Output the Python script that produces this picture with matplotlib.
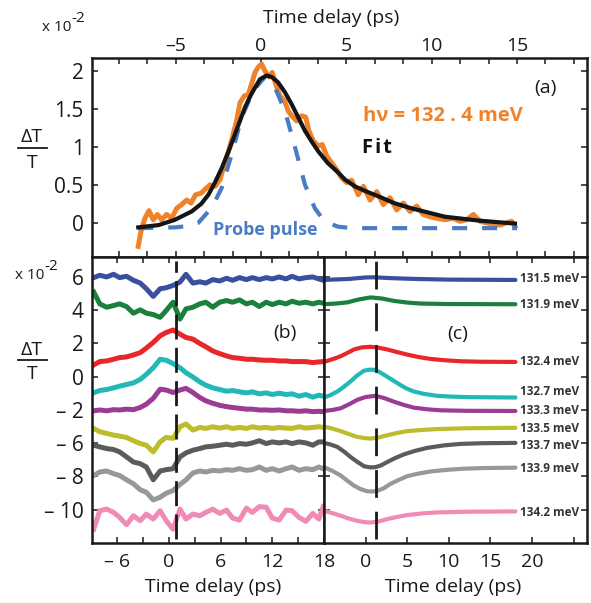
import matplotlib
matplotlib.use('Agg')
import matplotlib.pyplot as plt
from matplotlib.lines import Line2D
from matplotlib.ticker import FixedLocator, FixedFormatter

plt.rcParams['font.family'] = ['Open Sans', 'DejaVu Sans']

# ---------------- data: panel (a) ----------------
t_orange = [-7.19, -7.03, -6.8, -6.56, -6.31, -6.07, -5.82, -5.53, -5.23, -4.94, -4.65, -4.35,
            -4.1, -3.83, -3.51, -3.28, -2.99, -2.69, -2.4, -2.15, -1.91, -1.68, -1.43, -1.23,
            -0.98, -0.74, -0.55, -0.35, -0.16, 0.04, 0.23, 0.47, 0.66, 0.86, 1.11, 1.37, 1.6,
            1.8, 2.09, 2.38, 2.62, 2.81, 3.06, 3.36, 3.59, 3.85, 4.14, 4.43, 4.73, 5.02, 5.31,
            5.7, 6.0, 6.39, 6.78, 7.17, 7.56, 7.95, 8.34, 8.73, 9.12, 9.51, 9.9, 10.29, 10.78,
            11.27, 11.66, 12.05, 12.44, 12.83, 13.22, 13.61, 14.0, 14.39, 14.69, 14.88]
v_orange = [-0.31, -0.11, 0.06, 0.16, 0.04, 0.11, 0.04, 0.11, 0.06, 0.19, 0.24, 0.30,
            0.26, 0.37, 0.39, 0.44, 0.50, 0.48, 0.57, 0.77, 0.94, 1.12, 1.34, 1.58,
            1.67, 1.69, 1.83, 1.98, 2.05, 2.09, 2.00, 1.92, 1.98, 1.83, 1.67, 1.61, 1.47,
            1.41, 1.34, 1.41, 1.39, 1.21, 1.08, 1.01, 1.03, 0.88, 0.79, 0.70, 0.59, 0.53, 0.56,
            0.37, 0.48, 0.30, 0.41, 0.24, 0.33, 0.17, 0.26, 0.15, 0.22, 0.11, 0.08, 0.06, 0.04,
            0.06, 0.02, 0.04, 0.11, 0.02, 0.00, -0.02, -0.03, 0.00, 0.02, -0.05]

t_fit = [-7.19, -6.0, -5.04, -4.06, -3.5, -3.08, -2.7, -2.3, -1.9, -1.52, -1.2, -0.94, -0.6,
         -0.35, -0.06, 0.33, 0.63, 1.0, 1.4, 1.8, 2.2, 2.58, 3.0, 3.36, 3.9, 4.53, 4.92, 5.5,
         6.2, 6.87, 7.8, 8.83, 10.78, 12.73, 14.88]
v_fit = [-0.06, -0.03, 0.04, 0.15, 0.25, 0.37, 0.53, 0.72, 0.94, 1.17, 1.36, 1.52, 1.68,
         1.78, 1.89, 1.94, 1.92, 1.85, 1.72, 1.56, 1.38, 1.21, 1.06, 0.94, 0.79, 0.66, 0.57,
         0.48, 0.41, 0.35, 0.26, 0.19, 0.08, 0.03, -0.01]

t_probe = [-7.19, -5.0, -4.2, -3.67, -3.08, -2.7, -2.3, -1.72, -1.13, -0.45, 0.23, 0.82, 1.41,
           2.0, 2.58, 3.16, 3.55, 3.94, 4.5, 5.3, 15.0]
v_probe = [-0.07, -0.06, -0.04, 0.0, 0.15, 0.28, 0.46, 0.90, 1.39, 1.74, 1.92, 1.78, 1.47,
           0.99, 0.50, 0.19, 0.07, 0.0, -0.05, -0.07, -0.07]

# ---------------- data: panel (b) (plotted with vertical offsets) ----------------
t_meas = [-8.7, -8.0, -7.2, -6.4, -5.7, -4.9, -4.1, -3.3, -2.6, -1.8, -1.0, -0.3, 0.5, 1.3,
          2.0, 2.8, 3.6, 4.3, 5.1, 5.9, 6.7, 7.4, 8.2, 9.0, 9.7, 10.5, 11.3, 12.0, 12.8, 13.6,
          14.3, 15.1, 15.9, 16.7, 17.4, 17.9]
meas_1315 = [5.96, 6.10, 6.00, 6.16, 5.96, 6.04, 5.80, 5.63, 5.29, 4.83, 5.29, 5.35, 5.49, 5.69,
             6.16, 5.63, 5.71, 5.63, 5.84, 5.76, 5.92, 5.80, 5.96, 5.84, 5.96, 5.84, 5.96, 5.88,
             6.00, 5.88, 6.04, 5.88, 5.96, 6.00, 5.88, 5.80]
meas_1319 = [5.09, 4.38, 4.18, 4.28, 4.38, 4.22, 3.82, 4.02, 3.82, 3.74, 3.57, 3.98, 4.48, 3.47,
             4.08, 4.18, 4.38, 4.48, 4.18, 4.48, 4.58, 4.48, 4.62, 4.38, 4.48, 4.22, 4.48, 4.34,
             4.48, 4.38, 4.54, 4.42, 4.48, 4.38, 4.48, 4.42]
meas_1324 = [0.71, 0.91, 0.95, 1.05, 1.15, 1.19, 1.31, 1.45, 1.72, 2.06, 2.46, 2.66, 2.81, 2.56,
             2.36, 2.26, 2.00, 1.80, 1.55, 1.39, 1.25, 1.15, 1.11, 1.05, 1.05, 1.01, 0.99, 0.99,
             0.95, 0.95, 0.91, 0.91, 0.91, 0.85, 0.89, 0.91]
meas_1327 = [-0.97, -0.83, -0.77, -0.67, -0.57, -0.47, -0.37, -0.16, 0.14, 0.54, 1.05, 0.99, 0.79,
             0.54, 0.24, -0.02, -0.31, -0.51, -0.67, -0.77, -0.87, -0.83, -0.91, -0.97, -0.91,
             -1.03, -0.97, -1.07, -0.99, -1.07, -1.03, -1.17, -1.07, -1.23, -1.11, -1.17]
meas_1333 = [-2.05, -2.00, -2.05, -1.98, -2.00, -1.95, -1.98, -1.85, -1.65, -1.30, -0.75, -0.80,
             -0.95, -0.80, -0.70, -0.95, -1.25, -1.45, -1.60, -1.72, -1.80, -1.85, -1.90, -1.95,
             -1.95, -2.00, -2.00, -2.02, -2.00, -2.05, -2.05, -2.08, -2.05, -2.10, -2.08, -2.10]
meas_1335 = [-3.11, -3.31, -3.41, -3.51, -3.57, -3.65, -3.85, -4.02, -4.12, -4.52, -3.92, -3.65,
             -3.71, -3.01, -2.84, -3.21, -3.05, -3.11, -3.01, -3.09, -3.01, -3.11, -3.05, -3.11,
             -3.01, -3.09, -3.05, -3.11, -3.05, -3.09, -3.11, -3.01, -3.09, -3.05, -3.01, -3.05]
meas_1337 = [-4.12, -4.22, -4.32, -4.38, -4.52, -4.82, -5.13, -5.23, -5.43, -6.20, -5.67, -5.59,
             -5.53, -4.82, -4.58, -4.42, -4.32, -4.22, -4.18, -4.12, -4.06, -4.12, -4.02, -4.06,
             -3.98, -3.85, -4.02, -3.92, -3.98, -3.92, -4.02, -3.92, -3.98, -4.12, -3.92, -3.92]
meas_1339 = [-5.94, -5.73, -5.67, -5.83, -5.94, -6.20, -6.44, -6.80, -6.95, -7.41, -7.25, -7.01,
             -6.84, -6.48, -6.20, -5.79, -5.67, -5.73, -5.63, -5.67, -5.59, -5.63, -5.53, -5.63,
             -5.59, -5.43, -5.63, -5.53, -5.67, -5.53, -5.43, -5.63, -5.53, -5.59, -5.43, -5.53]
meas_1342 = [-9.17, -8.06, -7.96, -8.16, -8.46, -8.90, -8.36, -8.66, -8.26, -8.56, -8.06, -8.66,
             -9.17, -7.96, -8.56, -8.26, -8.36, -8.16, -7.96, -8.22, -8.02, -8.50, -8.62, -7.90,
             -8.16, -7.81, -7.85, -8.50, -8.62, -8.02, -8.06, -8.46, -8.70, -8.22, -8.56, -7.81]

# ---------------- data: panel (c) model curves ----------------
t_1315 = [-5, -2, 0, 1, 3, 6, 10, 18]
c_1315 = [5.82, 5.88, 5.97, 5.98, 5.93, 5.88, 5.84, 5.82]
t_1319 = [-5, -3.6, -2.2, -0.8, 0.6, 2.0, 3.4, 5.0, 6.6, 10, 18]
c_1319 = [4.36, 4.40, 4.47, 4.65, 4.77, 4.70, 4.56, 4.46, 4.40, 4.37, 4.36]
t_1324 = [-5, -4, -3, -2, -1.4, -0.5, 0.6, 1.6, 2.6, 3.8, 5.0, 6.4, 7.8, 9.5, 11.4, 14, 18]
c_1324 = [0.89, 1.05, 1.23, 1.48, 1.64, 1.76, 1.80, 1.74, 1.64, 1.48, 1.33, 1.18, 1.07, 0.99,
          0.93, 0.90, 0.89]
t_1327 = [-5, -4.2, -3.4, -2.6, -1.8, -1.0, -0.2, 0.4, 1.0, 1.6, 2.2, 3.0, 3.8, 4.8, 5.8, 7.0,
          8.6, 10.5, 12.6, 18]
c_1327 = [-1.25, -1.10, -0.89, -0.60, -0.28, 0.08, 0.36, 0.42, 0.42, 0.30, 0.12, -0.13, -0.38,
          -0.68, -0.89, -1.03, -1.15, -1.20, -1.23, -1.25]
t_1333 = [-5, -4, -3, -2, -1, 0, 1.2, 2.2, 3.4, 4.6, 5.8, 7.4, 9, 12, 18]
c_1333 = [-2.06, -2.00, -1.90, -1.66, -1.39, -1.22, -1.15, -1.28, -1.50, -1.70, -1.86, -1.96,
          -2.02, -2.05, -2.06]
t_1335 = [-5, -4, -3, -2, -1, 0, 0.6, 1.6, 2.6, 3.8, 5, 6.8, 8.6, 12, 18]
c_1335 = [-3.00, -3.12, -3.27, -3.45, -3.62, -3.70, -3.72, -3.65, -3.52, -3.38, -3.27, -3.20,
          -3.15, -3.10, -3.07]
t_1337 = [-5, -4.2, -3.4, -2.6, -1.8, -1, -0.2, 0.5, 1.2, 1.9, 2.6, 3.6, 4.6, 6, 7.4, 9.4,
          11.4, 14, 18]
c_1337 = [-3.98, -4.08, -4.22, -4.50, -4.83, -5.12, -5.38, -5.45, -5.44, -5.32, -5.13, -4.88,
          -4.67, -4.45, -4.28, -4.13, -4.04, -4.00, -3.98]
t_1339 = [-5, -4, -3, -2.2, -1.4, -0.6, 0.2, 0.8, 1.4, 2.2, 3, 4, 5, 6.4, 7.8, 9.8, 11.8,
          14.5, 18]
c_1339 = [-5.44, -5.66, -5.94, -6.25, -6.55, -6.76, -6.89, -6.90, -6.87, -6.70, -6.44, -6.20,
          -5.98, -5.82, -5.70, -5.60, -5.53, -5.49, -5.47]
t_1342 = [-5, -4, -3, -2, -1, 0, 0.6, 1.6, 2.6, 3.8, 5, 6.8, 8.6, 12, 18]
c_1342 = [-8.06, -8.20, -8.36, -8.53, -8.67, -8.75, -8.77, -8.70, -8.56, -8.43, -8.32, -8.22,
          -8.16, -8.12, -8.10]

energies = ['131.5 meV', '131.9 meV', '132.4 meV', '132.7 meV', '133.3 meV',
            '133.5 meV', '133.7 meV', '133.9 meV', '134.2 meV']
label_pos = [5.88, 4.36, 0.91, -0.91, -2.06, -3.09, -4.12, -5.52, -8.18]
colors = ['#3a4f9e', '#1b7f3e', '#e8262b', '#22b8b6', '#9a3c95',
          '#bcbc2c', '#5b5b5b', '#989898', '#f08bb6']

meas = [meas_1315, meas_1319, meas_1324, meas_1327, meas_1333,
        meas_1335, meas_1337, meas_1339, meas_1342]
model_t = [t_1315, t_1319, t_1324, t_1327, t_1333, t_1335, t_1337, t_1339, t_1342]
model_v = [c_1315, c_1319, c_1324, c_1327, c_1333, c_1335, c_1337, c_1339, c_1342]

ytick_pos = [6, 4, 2, 0, -2, -4, -6, -8]
ytick_lab = ['6', '4', '2', '0', '\u2013 2', '\u2013 6', '\u2013 8', '\u2013 10']
xb_major = [-6, 0, 6, 12, 18]
xb_labels = ['\u2013 6', '0', '6', '12', '18']
xb_minor = [-3, 3, 9, 15]
xc_major = [0, 5, 10, 15, 20]
xc_labels = ['0', '5', '10', '15', '20']
xc_minor = [25]

# ---------------- figure ----------------
W, H = 591, 603
fig = plt.figure(figsize=(W / 100, H / 100), dpi=100)


def fx(x):
    return x / W


def fy(y):
    return 1 - y / H


ax_a = fig.add_axes([92 / W, 1 - 257 / H, 495 / W, 199 / H])
ax_b = fig.add_axes([92 / W, 1 - 543 / H, 232 / W, 286 / H])
ax_c = fig.add_axes([324 / W, 1 - 543 / H, 263 / W, 286 / H])

for ax in (ax_a, ax_b, ax_c):
    for s in ax.spines.values():
        s.set_linewidth(1.8)
        s.set_color('#1a1a1a')
    ax.tick_params(which='both', direction='in', length=4, width=1.1, top=True, right=True,
                   labelsize=14, colors='#1a1a1a')

# panel (a)
ax_a.plot(t_orange, v_orange, color='#f0822a', lw=3.6, solid_joinstyle='round', zorder=2)
ax_a.plot(t_probe, v_probe, color='#4a7cc3', lw=3.0, dashes=(3.6, 3.6), zorder=3)
ax_a.plot(t_fit, v_fit, color='#151515', lw=3.0, zorder=4)
ax_a.set_xlim(-9.9, 19.1)
ax_a.set_ylim(-0.45, 2.17)
ax_a.xaxis.set_major_locator(FixedLocator([-5, 0, 5, 10, 15]))
ax_a.xaxis.set_major_formatter(FixedFormatter(['\u20135', '0', '5', '10', '15']))
ax_a.xaxis.set_minor_locator(FixedLocator([k * 5 / 3 for k in range(-5, 12) if k % 3 != 0]))
ax_a.tick_params(axis='x', which='both', labeltop=True, labelbottom=False, pad=2)
ax_a.set_yticks([0, 0.5, 1, 1.5, 2])
ax_a.set_yticklabels(['0', '0.5', '1', '1.5', '2'])
ax_a.tick_params(axis='y', pad=6, labelsize=15)

# panel (b)
for y, c in zip(meas, colors):
    ax_b.plot(t_meas, y, color=c, lw=3.6, solid_joinstyle='round', zorder=2)
ax_b.axvline(0.8, ymin=0.015, ymax=0.985, color='#1a1a1a', lw=2.0, dashes=(9, 3), zorder=5)
ax_b.set_xlim(-8.9, 18.0)
ax_b.set_ylim(-10, 7.2)
ax_b.xaxis.set_major_locator(FixedLocator(xb_major))
ax_b.xaxis.set_major_formatter(FixedFormatter(xb_labels))
ax_b.xaxis.set_minor_locator(FixedLocator(xb_minor))
ax_b.tick_params(axis='x', pad=7)
ax_b.yaxis.set_major_locator(FixedLocator(ytick_pos))
ax_b.yaxis.set_major_formatter(FixedFormatter(ytick_lab))
ax_b.tick_params(axis='y', pad=6, labelsize=15)

# panel (c)
for tt, vv, c, lab, lp in zip(model_t, model_v, colors, energies, label_pos):
    ax_c.plot(tt, vv, color=c, lw=3.0, solid_capstyle='round', solid_joinstyle='round', zorder=2)
    ax_c.text(18.5, lp, lab, ha='left', va='center', fontsize=8.5, fontweight='bold',
              color='#333333')
ax_c.axvline(1.3, ymin=0.015, ymax=0.985, color='#1a1a1a', lw=2.0, dashes=(10, 5), zorder=5)
ax_c.set_xlim(-5.0, 26.6)
ax_c.set_ylim(-10, 7.2)
ax_c.xaxis.set_major_locator(FixedLocator(xc_major))
ax_c.xaxis.set_major_formatter(FixedFormatter(xc_labels))
ax_c.xaxis.set_minor_locator(FixedLocator(xc_minor))
ax_c.yaxis.set_major_locator(FixedLocator(ytick_pos))
ax_c.tick_params(axis='y', labelleft=False)
ax_c.tick_params(axis='x', pad=7)

# ---------------- texts ----------------
fig.text(fx(331), fy(18), 'Time delay (ps)', ha='center', va='center', fontsize=14, color='#1a1a1a')
fig.text(fx(213), fy(587), 'Time delay (ps)', ha='center', va='center', fontsize=14, color='#1a1a1a')
fig.text(fx(453), fy(587), 'Time delay (ps)', ha='center', va='center', fontsize=14, color='#1a1a1a')

fig.text(fx(42), fy(31), 'x 10', ha='left', va='baseline', fontsize=11, color='#1a1a1a')
fig.text(fx(71), fy(22), '-2', ha='left', va='baseline', fontsize=11, color='#1a1a1a')
fig.text(fx(15), fy(279), 'x 10', ha='left', va='baseline', fontsize=11, color='#1a1a1a')
fig.text(fx(44), fy(270), '-2', ha='left', va='baseline', fontsize=11, color='#1a1a1a')

for yd, yl, yt in ((137, 148, 163), (350, 360, 374)):
    fig.text(fx(32), fy(yd), '\u0394T', ha='center', va='center', fontsize=14, color='#1a1a1a')
    fig.add_artist(Line2D([fx(18), fx(47)], [fy(yl), fy(yl)], color='#1a1a1a', lw=1.3))
    fig.text(fx(32), fy(yt), 'T', ha='center', va='center', fontsize=14, color='#1a1a1a')

fig.text(fx(545), fy(88), '(a)', ha='center', va='center', fontsize=14, color='#1a1a1a')
fig.text(fx(285), fy(333), '(b)', ha='center', va='center', fontsize=14, color='#1a1a1a')
fig.text(fx(458), fy(334), '(c)', ha='center', va='center', fontsize=14, color='#1a1a1a')

fig.text(fx(363), fy(116), 'h\u03bd = 132 . 4 meV', ha='left', va='center', fontsize=14.5,
         fontweight='bold', color='#f0822a')
fig.text(fx(362), fy(148), 'F\u200ai\u200at', ha='left', va='center', fontsize=14.5,
         fontweight='bold', color='#111111')
fig.text(fx(213), fy(230), 'Probe pulse', ha='left', va='center', fontsize=13,
         fontweight='bold', color='#4a7cc3')

fig.savefig('out.png', dpi=100)
